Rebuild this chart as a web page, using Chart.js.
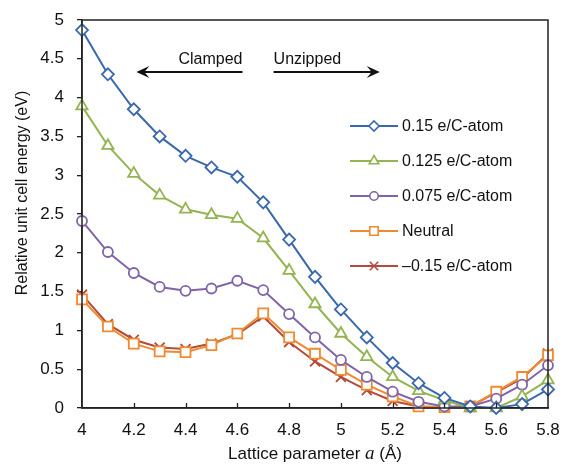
<!DOCTYPE html>
<html>
<head>
<meta charset="utf-8">
<script src="https://cdn.jsdelivr.net/npm/chart.js@4"></script>
<style>
  html, body { margin: 0; padding: 0; background: #fff; }
  #wrap { width: 563px; height: 471px; }
</style>
</head>
<body>
<div id="wrap"><canvas id="chart" width="563" height="471"></canvas></div>
<script>
// lattice parameter a (Å)
const latticeA = [4.0, 4.1, 4.2, 4.3, 4.4, 4.5, 4.6, 4.7, 4.8, 4.9, 5.0, 5.1, 5.2, 5.3, 5.4, 5.5, 5.6, 5.7, 5.8];

// relative unit cell energy (eV)
const e015 = [4.87, 4.30, 3.85, 3.50, 3.25, 3.10, 2.98, 2.65, 2.17, 1.69, 1.27, 0.91, 0.58, 0.32, 0.13, 0.02, 0.0, 0.05, 0.24];
const e0125 = [3.89, 3.38, 3.02, 2.74, 2.56, 2.49, 2.44, 2.19, 1.77, 1.34, 0.96, 0.66, 0.40, 0.22, 0.10, 0.0, 0.0, 0.15, 0.36];
const e0075 = [2.41, 2.01, 1.74, 1.56, 1.51, 1.54, 1.64, 1.52, 1.21, 0.91, 0.62, 0.40, 0.21, 0.08, 0.02, 0.02, 0.12, 0.30, 0.55];
const eNeutral = [1.40, 1.05, 0.83, 0.73, 0.72, 0.81, 0.96, 1.22, 0.91, 0.70, 0.49, 0.30, 0.15, 0.02, 0.01, 0.02, 0.21, 0.40, 0.68];
const eMinus015 = [1.46, 1.08, 0.88, 0.78, 0.76, 0.83, 0.95, 1.18, 0.85, 0.60, 0.40, 0.23, 0.09, 0.02, 0.01, 0.02, 0.20, 0.38, 0.70];

const seriesNames = ["0.15 e/C-atom", "0.125 e/C-atom", "0.075 e/C-atom", "Neutral", "\u20130.15 e/C-atom"];
const seriesColors = ["#3a68ad", "#93b450", "#8064a8", "#f08a30", "#b44a3a"];
const seriesMarkers = ["rectRot", "triangle", "circle", "rect", "crossRot"];
const markerSizes = [6, 6.5, 5, 7, 7];

// arrows above the curves
const noteTexts = ["Clamped", "Unzipped"];
const noteFrom = [4.62, 4.74];
const noteTo = [4.21, 5.15];
const noteLevel = 4.33;

const yTicks = [0, 0.5, 1, 1.5, 2, 2.5, 3, 3.5, 4, 4.5, 5];

const xTitle = ["Lattice parameter ", "a", " (\u00c5)"];
const yTitle = "Relative unit cell energy (eV)";

const FONT = "'Liberation Sans', Arial, sans-serif";

function pairs(vals) {
  return latticeA.map((a, i) => ({ x: a, y: vals[i] }));
}

const allSeries = [e015, e0125, e0075, eNeutral, eMinus015];

const datasets = allSeries.map((vals, i) => ({
  label: seriesNames[i],
  data: pairs(vals),
  borderColor: seriesColors[i],
  backgroundColor: "#ffffff",
  pointBackgroundColor: "#ffffff",
  pointBorderColor: seriesColors[i],
  pointStyle: seriesMarkers[i],
  pointRadius: markerSizes[i],
  pointBorderWidth: 1.8,
  borderWidth: 2,
  tension: 0,
  clip: false
}));
// neutral sits on top of the red one like in the original
datasets[3].order = 0;
datasets[4].order = 1;

const extras = {
  id: "extras",
  afterDraw(chart) {
    const ctx = chart.ctx;
    const area = chart.chartArea;
    const xs = chart.scales.x;
    const ys = chart.scales.y;
    ctx.save();

    // frame
    ctx.strokeStyle = "#222";
    ctx.lineWidth = 1.5;
    ctx.strokeRect(area.left, area.top, area.right - area.left, area.bottom - area.top);

    // inward ticks on x
    ctx.lineWidth = 1.3;
    for (let v = 4.2; v < 5.79; v += 0.2) {
      const px = Math.round(xs.getPixelForValue(v)) + 0.5;
      ctx.beginPath();
      ctx.moveTo(px, area.bottom);
      ctx.lineTo(px, area.bottom - 5);
      ctx.stroke();
    }

    // axis titles (italic a, so drawn by hand)
    ctx.fillStyle = "#111";
    ctx.textBaseline = "alphabetic";
    ctx.textAlign = "left";
    const fonts = ["17px " + FONT, "italic 19px 'Liberation Serif', serif", "17px " + FONT];
    let total = 0;
    xTitle.forEach((t, i) => { ctx.font = fonts[i]; total += ctx.measureText(t).width; });
    let tx = (area.left + area.right) / 2 - total / 2;
    xTitle.forEach((t, i) => {
      ctx.font = fonts[i];
      ctx.fillText(t, tx, 459);
      tx += ctx.measureText(t).width;
    });

    ctx.save();
    ctx.translate(23, 193);
    ctx.rotate(-Math.PI / 2);
    ctx.font = "16px " + FONT;
    ctx.textAlign = "center";
    ctx.textBaseline = "middle";
    ctx.fillText(yTitle, 0, 0);
    ctx.restore();

    // annotations with arrows
    const ly = ys.getPixelForValue(noteLevel);
    ctx.font = "16px " + FONT;
    ctx.fillStyle = "#111";
    ctx.strokeStyle = "#111";
    ctx.lineWidth = 2;
    noteTexts.forEach((t, i) => {
      const x0 = xs.getPixelForValue(noteFrom[i]);
      const x1 = xs.getPixelForValue(noteTo[i]);
      const dir = x1 > x0 ? 1 : -1;
      ctx.textAlign = dir < 0 ? "right" : "left";
      ctx.textBaseline = "alphabetic";
      ctx.fillText(t, x0, ly - 8);
      ctx.beginPath();
      ctx.moveTo(x0, ly);
      ctx.lineTo(x1 - dir * 6, ly);
      ctx.stroke();
      ctx.beginPath();
      ctx.moveTo(x1, ly);
      ctx.lineTo(x1 - dir * 13, ly - 6);
      ctx.lineTo(x1 - dir * 8, ly);
      ctx.lineTo(x1 - dir * 13, ly + 6);
      ctx.closePath();
      ctx.fill();
    });

    // legend
    const lx = 350, ly0 = 126, step = 35;
    chart.data.datasets.forEach((ds, i) => {
      const yy = ly0 + i * step;
      ctx.strokeStyle = ds.borderColor;
      ctx.lineWidth = 2;
      ctx.beginPath();
      ctx.moveTo(lx, yy);
      ctx.lineTo(lx + 48, yy);
      ctx.stroke();
      ctx.fillStyle = "#fff";
      ctx.strokeStyle = ds.borderColor;
      ctx.lineWidth = 1.6;
      Chart.helpers.drawPoint(ctx, {
        pointStyle: ds.pointStyle,
        radius: ds.pointRadius * 0.85,
        borderWidth: 1.6,
        rotation: 0
      }, lx + 24, yy);
      ctx.fillStyle = "#111";
      ctx.font = "16px " + FONT;
      ctx.textAlign = "left";
      ctx.textBaseline = "middle";
      ctx.fillText(ds.label, lx + 52, yy + 1);
    });
    ctx.restore();
  }
};

new Chart(document.getElementById("chart").getContext("2d"), {
  type: "line",
  data: { datasets: datasets },
  options: {
    responsive: false,
    animation: false,
    layout: { padding: { top: 20, right: 15, left: 0, bottom: 0 } },
    plugins: { legend: { display: false }, tooltip: { enabled: false } },
    scales: {
      x: {
        type: "linear",
        min: 4,
        max: 5.8,
        afterFit(scale) {
          scale.height = 63;
          scale.paddingLeft = 0;
          scale.paddingRight = 0;
        },
        afterBuildTicks(scale) {
          scale.ticks = latticeA.filter((a, i) => i % 2 === 0).map(v => ({ value: v }));
        },
        ticks: {
          color: "#111",
          font: { family: FONT, size: 17 },
          padding: 12,
          maxRotation: 0,
          callback: v => String(Math.round(v * 10) / 10)
        },
        grid: { display: true, drawOnChartArea: false, drawTicks: false },
        border: { color: "#222", width: 1.5 },
        title: { display: false }
      },
      y: {
        min: 0,
        max: 5,
        afterFit(scale) {
          scale.width = 82;
          scale.paddingTop = 0;
          scale.paddingBottom = 0;
        },
        afterBuildTicks(scale) {
          scale.ticks = yTicks.map(v => ({ value: v }));
        },
        ticks: {
          color: "#111",
          font: { family: FONT, size: 17 },
          padding: 13,
          callback: v => String(Math.round(v * 10) / 10)
        },
        grid: { drawOnChartArea: false, drawTicks: true, tickLength: 5, color: "#222", lineWidth: 1.3 },
        border: { color: "#222", width: 1.5 },
        title: { display: false }
      }
    }
  },
  plugins: [extras]
});
</script>
</body>
</html>
